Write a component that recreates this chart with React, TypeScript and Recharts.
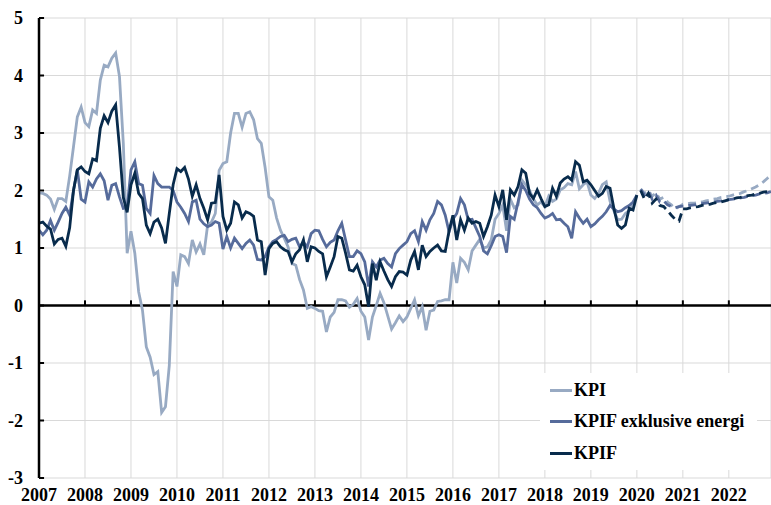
import { LineChart, Line, XAxis, YAxis, CartesianGrid, ReferenceLine } from "recharts"

const startYear = 2007
const yearTicks = [2007, 2008, 2009, 2010, 2011, 2012, 2013, 2014, 2015, 2016, 2017, 2018, 2019, 2020, 2021, 2022]
const valueTicks = [-3, -2, -1, 0, 1, 2, 3, 4, 5]

// monthly outcomes, Jan 2007 - Jan 2020
const kpi = [
  1.96, 1.95, 1.92, 1.85, 1.67, 1.86, 1.86, 1.81, 2.25, 2.76, 3.28, 3.45,
  3.18, 3.11, 3.4, 3.34, 3.92, 4.18, 4.15, 4.3, 4.39, 3.98, 2.82, 0.91,
  1.29, 0.91, 0.24, -0.08, -0.72, -0.9, -1.2, -1.15, -1.86, -1.76, -1.04, 0.59,
  0.33, 0.88, 0.85, 0.73, 1.14, 0.93, 1.07, 0.88, 1.4, 1.45, 1.6, 2.35,
  2.47, 2.5, 3.0, 3.34, 3.34, 3.1, 3.34, 3.37, 3.23, 2.9, 2.82, 2.4,
  1.89, 1.83, 1.52, 1.31, 1.17, 1.02, 0.73, 0.7, 0.45, 0.27, -0.05, -0.02,
  -0.05, -0.09, -0.1, -0.46, -0.2, -0.12, 0.1, 0.1, 0.08, -0.03, 0.02, 0.12,
  -0.1, -0.2, -0.6, -0.2, 0.0, 0.21, 0.05, -0.18, -0.41, -0.3, -0.18, -0.28,
  -0.2, -0.05, 0.1, -0.18, -0.02, -0.43, -0.1, -0.08, 0.07, 0.08, 0.1, 0.1,
  0.75, 0.39, 0.82, 0.75, 0.62, 0.95, 1.05, 1.15, 1.0, 1.02, 1.14, 1.5,
  1.6, 1.75, 1.3, 1.85, 1.7, 1.75, 2.18, 2.1, 2.0, 1.85, 1.75, 1.8,
  1.72, 1.9, 1.81, 1.85, 2.01, 2.05, 2.12, 2.1, 2.33, 2.03, 2.1, 2.15,
  1.92, 1.86, 1.95, 2.1, 2.15, 1.81, 1.65, 1.49, 1.5, 1.6, 1.65, 1.75,
  1.92,
]

const kpifExEnergy = [
  1.31, 1.23, 1.31, 1.48, 1.31, 1.45, 1.6, 1.71, 1.57, 2.0, 2.36, 1.85,
  1.8, 2.15, 2.06, 2.2, 2.29, 2.17, 1.83, 2.09, 2.12, 1.89, 1.69, 1.7,
  2.36, 2.5, 2.12, 2.09, 1.69, 1.6, 2.26, 2.12, 2.06, 2.06, 2.06, 2.0,
  1.8, 1.71, 1.6, 1.46, 1.8, 1.83, 1.5, 1.42, 1.37, 1.4, 1.46, 1.43,
  0.98, 1.2, 1.0, 1.17, 1.08, 0.99, 1.08, 1.14, 1.05, 0.8, 0.79, 0.85,
  1.02, 1.11, 1.15, 1.2, 1.22, 1.11, 1.15, 1.17, 1.02, 1.1, 1.02, 1.25,
  1.31, 1.3, 1.15, 1.02, 1.1, 1.14, 1.3, 1.43, 1.14, 0.85, 0.85, 0.95,
  0.9, 0.76, 0.33, 0.76, 0.67, 0.79, 0.82, 0.73, 0.67, 0.9, 0.99, 1.05,
  1.11, 1.25, 1.3, 1.11, 1.46, 1.31, 1.49, 1.6, 1.81, 1.75, 1.57, 1.28,
  1.5, 1.6, 1.86, 1.75, 1.49, 1.5, 1.35, 1.2, 0.95, 0.9, 1.04, 1.2,
  1.23, 1.2, 0.92, 1.55, 1.5, 1.8, 2.1, 2.0, 1.85, 1.75, 1.7, 1.6,
  1.52, 1.55, 1.6, 1.49, 1.5, 1.43, 1.37, 1.17, 1.63, 1.52, 1.43, 1.5,
  1.37, 1.42, 1.49, 1.55, 1.63, 1.74, 1.68, 1.63, 1.65, 1.7, 1.74, 1.8,
  1.92,
]

const kpif = [
  1.43, 1.45, 1.38, 1.33, 1.07, 1.15, 1.17, 1.03, 1.35, 2.0, 2.36, 2.41,
  2.33, 2.29, 2.55, 2.52, 3.08, 3.3, 3.18, 3.38, 3.49, 2.75, 1.88, 1.62,
  2.1, 2.3, 1.95, 1.86, 1.4, 1.25, 1.45, 1.5, 1.35, 1.08, 1.6, 2.1,
  2.38, 2.33, 2.4, 2.2, 1.9, 2.1, 1.86, 1.69, 1.49, 1.78, 1.79, 2.27,
  1.55, 1.31, 1.43, 1.8, 1.75, 1.52, 1.63, 1.6, 1.55, 1.14, 1.11, 0.53,
  0.99, 1.08, 1.11, 1.02, 0.97, 0.94, 0.76, 0.9, 0.97, 1.14, 0.76, 1.02,
  1.0, 0.94, 0.9, 0.5, 0.67, 0.85, 1.2, 1.17, 0.91, 0.62, 0.6, 0.7,
  0.5, 0.36, -0.02, 0.73, 0.44, 0.76, 0.6, 0.45, 0.33, 0.5, 0.59, 0.58,
  0.53, 0.79, 0.94, 0.62, 1.05, 0.85, 0.94, 1.0, 1.05, 0.95, 0.94, 1.3,
  1.57, 1.14, 1.49, 1.31, 1.52, 1.43, 1.46, 1.43, 1.2, 1.37, 1.57, 1.92,
  1.72, 2.01, 1.49, 2.01, 1.92, 2.07, 2.36, 2.3, 1.95, 1.86, 2.01, 1.86,
  1.72, 1.75, 2.04, 1.9, 2.13, 2.2, 2.24, 2.18, 2.5, 2.44, 2.15, 2.18,
  2.1, 2.0, 1.9, 1.95, 2.07, 2.04, 1.69, 1.4, 1.34, 1.4, 1.69, 1.66,
  1.92,
]

// forecasts, Feb 2020 - Dec 2022
const kpiForecast = [
  2.03, 1.95, 2.0, 1.9, 1.96, 1.85, 1.88, 1.8, 1.75, 1.68, 1.72,
  1.76, 1.77, 1.78, 1.78, 1.79, 1.8, 1.82, 1.83, 1.85, 1.86, 1.88, 1.89,
  1.9, 1.92, 1.94, 1.95, 1.98, 2.0, 2.03, 2.06, 2.1, 2.15, 2.21, 2.27,
]

const kpifExEnergyForecast = [
  2.02, 1.92, 1.98, 1.85, 1.92, 1.8, 1.82, 1.75, 1.72, 1.7, 1.72,
  1.73, 1.74, 1.74, 1.75, 1.76, 1.77, 1.78, 1.79, 1.8, 1.81, 1.82, 1.83,
  1.84, 1.85, 1.86, 1.87, 1.88, 1.9, 1.91, 1.92, 1.94, 1.95, 1.96, 1.98,
]

const kpifForecast = [
  2.0, 1.85, 1.95, 1.78, 1.85, 1.74, 1.72, 1.65, 1.57, 1.5, 1.47,
  1.68, 1.68, 1.7, 1.71, 1.72, 1.74, 1.75, 1.76, 1.78, 1.79, 1.8, 1.82,
  1.84, 1.85, 1.87, 1.88, 1.9, 1.91, 1.92, 1.94, 1.95, 1.97, 1.98, 2.0,
]

const COLORS = {
  kpi: "#98aac3",
  kpifExEnergy: "#566b9b",
  kpif: "#082b4c",
}

const FONT = "'Liberation Serif', 'Times New Roman', serif"

const forecastStart = kpi.length
const data = Array.from({ length: forecastStart + kpiForecast.length }, (_, i) => {
  const f = i - forecastStart
  return {
    t: startYear + i / 12,
    kpi: i < forecastStart ? kpi[i] : null,
    kpifExEnergy: i < forecastStart ? kpifExEnergy[i] : null,
    kpif: i < forecastStart ? kpif[i] : null,
    kpiF: f >= 0 ? kpiForecast[f] : null,
    kpifExEnergyF: f >= 0 ? kpifExEnergyForecast[f] : null,
    kpifF: f >= 0 ? kpifForecast[f] : null,
  }
})

const legendItems = [
  { label: "KPI", color: COLORS.kpi },
  { label: "KPIF exklusive energi", color: COLORS.kpifExEnergy },
  { label: "KPIF", color: COLORS.kpif },
]

const tickStyle = { fill: "#000", fontSize: 18, fontWeight: 700, fontFamily: FONT }

export default function App() {
  return (
    <div style={{ position: "absolute", left: 0, top: 0, width: 771, height: 505, background: "#fff" }}>
      <LineChart width={771} height={505} data={data} margin={{ top: 18, right: 0, left: 0, bottom: 0 }}>
        <CartesianGrid stroke="#d9d9d9" strokeWidth={1} />
        <XAxis
          dataKey="t"
          type="number"
          domain={[startYear, 2022 + 11 / 12]}
          ticks={yearTicks}
          interval={0}
          allowDataOverflow
          axisLine={false}
          tickLine={false}
          tickSize={0}
          tickMargin={10}
          height={27}
          tick={tickStyle}
        />
        <YAxis
          type="number"
          domain={[-3, 5]}
          ticks={valueTicks}
          interval={0}
          width={39}
          axisLine={{ stroke: "#000", strokeWidth: 2.5 }}
          tickLine={false}
          tickSize={0}
          tickMargin={16}
          tick={tickStyle}
        />
        <ReferenceLine y={0} stroke="#000" strokeWidth={2.5} />
        {yearTicks.map((yr) => (
          <ReferenceLine
            key={"xt" + yr}
            segment={[{ x: yr, y: 0 }, { x: yr, y: 0.09 }]}
            stroke="#000"
            strokeWidth={2}
          />
        ))}
        {valueTicks.map((v) => (
          <ReferenceLine
            key={"yt" + v}
            segment={[{ x: startYear, y: v }, { x: startYear + 0.11, y: v }]}
            stroke="#000"
            strokeWidth={2}
          />
        ))}
        <Line type="linear" dataKey="kpi" stroke={COLORS.kpi} strokeWidth={2.8} dot={false} isAnimationActive={false} />
        <Line type="linear" dataKey="kpifExEnergy" stroke={COLORS.kpifExEnergy} strokeWidth={2.8} dot={false} isAnimationActive={false} />
        <Line type="linear" dataKey="kpif" stroke={COLORS.kpif} strokeWidth={2.8} dot={false} isAnimationActive={false} />
        <Line type="linear" dataKey="kpiF" stroke={COLORS.kpi} strokeWidth={2.8} strokeDasharray="8 5" dot={false} isAnimationActive={false} />
        <Line type="linear" dataKey="kpifExEnergyF" stroke={COLORS.kpifExEnergy} strokeWidth={2.8} strokeDasharray="8 5" dot={false} isAnimationActive={false} />
        <Line type="linear" dataKey="kpifF" stroke={COLORS.kpif} strokeWidth={2.8} strokeDasharray="8 5" dot={false} isAnimationActive={false} />
      </LineChart>
      <div
        style={{
          position: "absolute",
          left: 540,
          top: 373,
          width: 217,
          height: 97,
          background: "#fff",
          fontFamily: FONT,
          fontWeight: 700,
          fontSize: 18,
          color: "#000",
        }}
      >
        {legendItems.map((item, i) => (
          <div
            key={item.label}
            style={{ position: "absolute", left: 10, top: 6 + i * 31.5, height: 22, display: "flex", alignItems: "center", whiteSpace: "nowrap" }}
          >
            <span style={{ display: "inline-block", width: 22, height: 3, background: item.color, marginRight: 2 }} />
            <span>{item.label}</span>
          </div>
        ))}
      </div>
    </div>
  )
}
